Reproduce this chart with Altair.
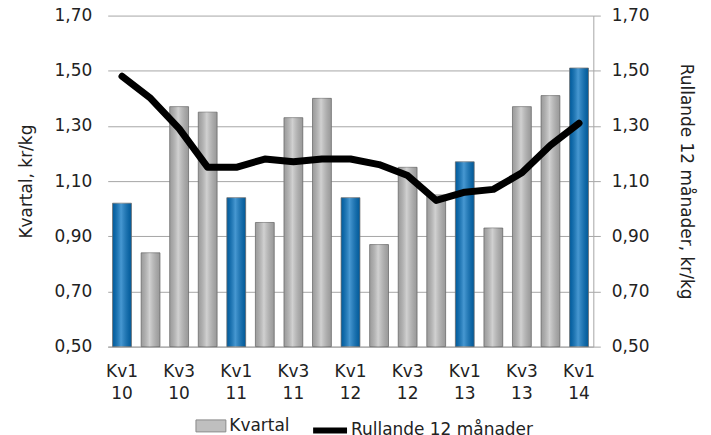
import altair as alt
import pandas as pd

kvartal = ["Kv1 10", "Kv2 10", "Kv3 10", "Kv4 10",
           "Kv1 11", "Kv2 11", "Kv3 11", "Kv4 11",
           "Kv1 12", "Kv2 12", "Kv3 12", "Kv4 12",
           "Kv1 13", "Kv2 13", "Kv3 13", "Kv4 13",
           "Kv1 14"]
kvartal_varde = [1.02, 0.84, 1.37, 1.35, 1.04, 0.95, 1.33, 1.40,
                 1.04, 0.87, 1.15, 1.05, 1.17, 0.93, 1.37, 1.41, 1.51]
rullande = [1.48, 1.40, 1.29, 1.15, 1.15, 1.18, 1.17, 1.18,
            1.18, 1.16, 1.12, 1.03, 1.06, 1.07, 1.13, 1.23, 1.31]
y_ticks = [0.5, 0.7, 0.9, 1.1, 1.3, 1.5, 1.7]

df = pd.DataFrame({"kvartal": kvartal, "varde": kvartal_varde, "rullande": rullande})
df["typ"] = ["Kv1" if k.startswith("Kv1") else "Kvartal" for k in kvartal]
df["serie"] = "Rullande 12 månader"

FONT = "DejaVu Sans"
TXT = "#222222"
GRID = "#a6a6a6"
label_expr = "replace(format(datum.value, '.2f'), '.', ',')"

x_enc = alt.X(
    "kvartal:N", sort=kvartal,
    scale=alt.Scale(paddingInner=0.34, paddingOuter=0.17),
    axis=alt.Axis(
        title=None, labelAngle=0, ticks=False, domainColor=GRID,
        labelExpr="(indexof(datum.value,'Kv1')==0 || indexof(datum.value,'Kv3')==0) ? split(datum.value,' ') : ''",
        labelPadding=17, labelLineHeight=22, labelBaseline="top",
        labelOverlap=False, labelFontSize=17, labelColor=TXT,
    ),
)

yscale = alt.Scale(domain=[0.5, 1.7], nice=False, zero=False)
left_axis = alt.Axis(title="Kvartal, kr/kg", values=y_ticks, labelExpr=label_expr,
                     grid=True, gridColor=GRID, domain=False, ticks=False,
                     labelPadding=16, titlePadding=19, labelFontSize=17,
                     titleFontSize=17, titleFontWeight="normal",
                     labelColor=TXT, titleColor=TXT)

bars = alt.Chart(df).mark_bar(stroke="#7a7a7a", strokeWidth=0.8).encode(
    x=x_enc,
    y=alt.Y("varde:Q", scale=yscale, axis=left_axis),
    y2=alt.datum(0.5),
    color=alt.Color("typ:N",
                    scale=alt.Scale(domain=["Kvartal", "Kv1"], range=["#bfbfbf", "#0070c0"]),
                    legend=alt.Legend(values=["Kvartal"], orient="none", legendX=88, legendY=396,
                                      title=None, symbolType="M-1,-0.4H1V0.4H-1Z", symbolSize=900,
                                      symbolStrokeColor="#8a8a8a", symbolStrokeWidth=1,
                                      labelFontSize=17, labelColor=TXT, labelOffset=3,
                                      labelLimit=300, padding=0)),
)

overlay = alt.Chart(df).mark_bar(
    fill=alt.LinearGradient(
        gradient="linear", x1=0, x2=1, y1=0, y2=0,
        stops=[alt.GradientStop(offset=0, color="rgba(0,0,0,0.18)"),
               alt.GradientStop(offset=0.45, color="rgba(255,255,255,0.28)"),
               alt.GradientStop(offset=1, color="rgba(0,0,0,0.2)")]),
).encode(
    x=x_enc,
    y=alt.Y("varde:Q", scale=yscale, axis=left_axis),
    y2=alt.datum(0.5),
)

line = alt.Chart(df).mark_line(strokeWidth=7, strokeCap="round", strokeJoin="round").encode(
    x=x_enc,
    y=alt.Y("rullande:Q", scale=yscale,
            axis=alt.Axis(title="Rullande 12 månader, kr/kg", orient="right", values=y_ticks,
                          labelExpr=label_expr, grid=False, domain=True, domainColor=GRID,
                          ticks=True, tickSize=7, tickColor=GRID, labelPadding=11,
                          titlePadding=28, labelFontSize=17, titleFontSize=17,
                          titleFontWeight="normal", labelColor=TXT, titleColor=TXT)),
    color=alt.Color("serie:N", scale=alt.Scale(range=["#000000"]),
                    legend=alt.Legend(orient="none", legendX=203, legendY=396, title=None,
                                      symbolType="stroke", symbolSize=1156, symbolStrokeWidth=6,
                                      labelFontSize=17, labelColor=TXT, labelOffset=1,
                                      labelLimit=300, padding=0)),
)

chart = alt.layer(
    alt.layer(bars, overlay),
    line,
).resolve_scale(
    y="independent", color="independent"
).properties(
    width=487, height=332,
    autosize=alt.AutoSizeParams(type="none"),
    padding={"left": 100, "top": 7, "right": 110, "bottom": 88},
).configure(
    font=FONT,
).configure_view(stroke=None)

chart.save("out.html", embed_options={"renderer": "svg", "actions": False})
